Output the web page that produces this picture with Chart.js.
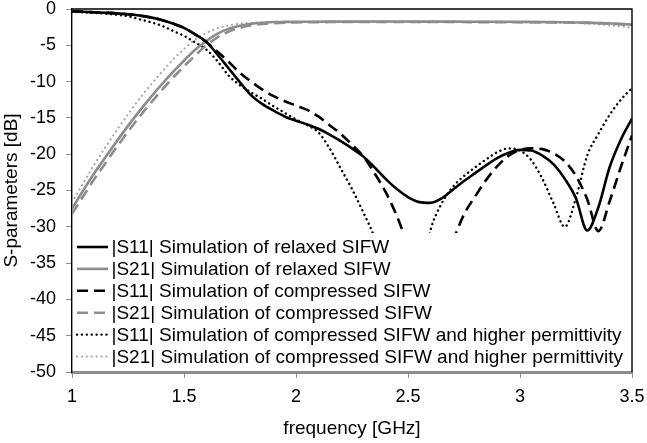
<!DOCTYPE html>
<html>
<head>
<meta charset="utf-8">
<script src="https://cdn.jsdelivr.net/npm/chart.js@4.4.0/dist/chart.umd.min.js"></script>
<style>
  html, body { margin: 0; padding: 0; background: #fff; }
</style>
</head>
<body>
<canvas id="sparams" width="647" height="443"></canvas>
<script>
// frequency points [GHz]
const freq = [1.00, 1.05, 1.10, 1.15, 1.20, 1.25, 1.30, 1.35, 1.40, 1.45,
  1.50, 1.55, 1.60, 1.65, 1.70, 1.75, 1.80, 1.85, 1.90, 1.95,
  2.00, 2.05, 2.10, 2.15, 2.20, 2.25, 2.30, 2.35, 2.40, 2.45,
  2.50, 2.55, 2.60, 2.65, 2.70, 2.75, 2.80, 2.85, 2.90, 2.95,
  3.00, 3.05, 3.10, 3.15, 3.20, 3.25, 3.30, 3.35, 3.40, 3.45, 3.50];

// |S11| relaxed SIFW
const s11Relaxed = [-0.3, -0.38, -0.45, -0.52, -0.6, -0.72, -0.9, -1.15, -1.5, -2.0,
  -2.6, -3.5, -4.5, -6.3, -8.2, -10.1, -11.9, -13.1, -14.0, -14.8,
  -15.4, -15.9, -16.5, -17.3, -18.2, -19.2, -20.3, -21.8, -23.4, -24.8,
  -25.9, -26.6, -26.7, -26.1, -24.9, -23.7, -22.6, -21.5, -20.5, -19.8,
  -19.4, -19.5, -20.2, -21.4, -23.4, -26.1, -30.5, -27.3, -21.8, -18.0, -15.1];
// |S21| relaxed SIFW
const s21Relaxed = [-27.5, -25.0, -22.6, -20.4, -18.2, -16.1, -14.1, -12.2, -10.4, -8.7,
  -7.1, -5.6, -4.4, -3.4, -2.7, -2.3, -2.05, -1.9, -1.8, -1.78,
  -1.76, -1.75, -1.75, -1.74, -1.74, -1.74, -1.73, -1.73, -1.73, -1.73,
  -1.73, -1.73, -1.74, -1.74, -1.74, -1.75, -1.75, -1.75, -1.76, -1.76,
  -1.77, -1.78, -1.79, -1.8, -1.82, -1.85, -1.88, -1.92, -1.98, -2.05, -2.15];
// |S11| compressed SIFW
const s11Compressed = [-0.3, -0.38, -0.45, -0.52, -0.6, -0.72, -0.9, -1.15, -1.5, -2.0,
  -2.6, -3.5, -4.6, -5.9, -7.3, -8.8, -10.0, -11.1, -12.0, -12.7,
  -13.3, -13.9, -14.8, -16.0, -17.2, -18.7, -20.3, -22.6, -25.2, -28.5,
  -32.5, -36.0, -37.5, -36.0, -32.0, -28.3, -25.8, -23.5, -21.6, -20.2,
  -19.4, -19.2, -19.3, -19.9, -21.0, -23.0, -26.2, -30.6, -26.5, -21.8, -17.4];
// |S21| compressed SIFW
const s21Compressed = [-28.2, -25.8, -23.4, -21.2, -19.0, -16.9, -14.9, -13.0, -11.2, -9.5,
  -7.9, -6.4, -5.0, -3.9, -3.1, -2.6, -2.25, -2.05, -1.95, -1.88,
  -1.84, -1.82, -1.81, -1.8, -1.8, -1.8, -1.79, -1.79, -1.79, -1.79,
  -1.79, -1.79, -1.8, -1.8, -1.8, -1.8, -1.81, -1.81, -1.81, -1.82,
  -1.82, -1.83, -1.84, -1.85, -1.86, -1.88, -1.91, -1.95, -2.02, -2.1, -2.2];
// |S11| compressed SIFW and higher permittivity
const s11HigherPerm = [-0.4, -0.48, -0.55, -0.65, -0.8, -1.0, -1.4, -1.8, -2.3, -3.0,
  -3.7, -4.6, -5.6, -7.2, -9.2, -10.5, -11.5, -12.4, -13.4, -14.3,
  -15.2, -16.0, -17.0, -19.2, -22.0, -24.8, -28.0, -31.5, -37.0, -43.0,
  -45.0, -38.0, -30.5, -26.8, -24.5, -23.0, -21.8, -20.7, -19.7, -19.2,
  -19.5, -20.8, -23.4, -26.8, -30.0, -26.0, -20.2, -17.2, -14.6, -12.5, -10.9];
// |S21| compressed SIFW and higher permittivity
const s21HigherPerm = [-26.6, -24.0, -21.4, -19.0, -16.7, -14.5, -12.4, -10.5, -8.7, -7.0,
  -5.5, -4.2, -3.3, -2.65, -2.25, -2.0, -1.9, -1.85, -1.82, -1.8,
  -1.8, -1.79, -1.79, -1.78, -1.78, -1.78, -1.78, -1.78, -1.78, -1.78,
  -1.78, -1.78, -1.79, -1.79, -1.79, -1.8, -1.8, -1.8, -1.81, -1.82,
  -1.83, -1.84, -1.85, -1.87, -1.9, -1.94, -2.0, -2.1, -2.25, -2.4, -2.6];

const seriesLabels = [
  '|S11| Simulation of relaxed SIFW',
  '|S21| Simulation of relaxed SIFW',
  '|S11| Simulation of compressed SIFW',
  '|S21| Simulation of compressed SIFW',
  '|S11| Simulation of compressed SIFW and higher permittivity',
  '|S21| Simulation of compressed SIFW and higher permittivity'
];

const xTicks = [1, 1.5, 2, 2.5, 3, 3.5];
const yTicks = [0, -5, -10, -15, -20, -25, -30, -35, -40, -45, -50];

const FONT = 'Liberation Sans';
const BLACK = '#000000';
const GREY = '#8c8c8c';
const LIGHTGREY = '#a3a3a3';

function pts(vals) {
  return freq.map((f, i) => ({ x: f, y: vals[i] }));
}

function line(label, vals, color, width, dash, cap) {
  return {
    label: label,
    data: pts(vals),
    borderColor: color,
    borderWidth: width,
    borderDash: dash,
    borderCapStyle: cap || 'butt',
    pointRadius: 0,
    fill: false,
    cubicInterpolationMode: 'monotone'
  };
}

// legend drawn inside the plot, on a white box
const insideLegend = {
  id: 'insideLegend',
  afterDatasetsDraw(chart) {
    const ctx = chart.ctx;
    const a = chart.chartArea;
    const boxTop = a.top + 224;
    ctx.save();
    ctx.fillStyle = '#ffffff';
    ctx.fillRect(a.left + 1.5, boxTop, a.right - a.left - 3, a.bottom - boxTop - 2);
    ctx.font = '19px "' + FONT + '"';
    ctx.textBaseline = 'middle';
    ctx.textAlign = 'left';
    chart.data.datasets.forEach((ds, i) => {
      const y = boxTop + 14 + i * 21.9;
      ctx.beginPath();
      ctx.strokeStyle = ds.borderColor;
      ctx.lineWidth = ds.borderWidth;
      ctx.setLineDash(ds.borderDash || []);
      ctx.lineCap = ds.borderCapStyle;
      ctx.moveTo(a.left + 5, y);
      ctx.lineTo(a.left + 36, y);
      ctx.stroke();
      ctx.setLineDash([]);
      ctx.fillStyle = BLACK;
      ctx.fillText(ds.label, a.left + 39.5, y + 1);
    });
    ctx.restore();
  },
  afterDraw(chart) {
    const ctx = chart.ctx;
    const a = chart.chartArea;
    ctx.save();
    ctx.strokeStyle = BLACK;
    ctx.lineWidth = 1.4;
    ctx.beginPath();
    ctx.moveTo(a.left, a.top);
    ctx.lineTo(a.right, a.top);
    ctx.lineTo(a.right, a.bottom);
    ctx.stroke();
    ctx.restore();
  }
};

new Chart(document.getElementById('sparams'), {
  type: 'line',
  data: {
    datasets: [
      line(seriesLabels[0], s11Relaxed, BLACK, 2.6, []),
      line(seriesLabels[1], s21Relaxed, GREY, 2.6, []),
      line(seriesLabels[2], s11Compressed, BLACK, 2.6, [11, 6]),
      line(seriesLabels[3], s21Compressed, GREY, 2.6, [11, 6]),
      line(seriesLabels[4], s11HigherPerm, BLACK, 2.4, [0.1, 4.8], 'round'),
      line(seriesLabels[5], s21HigherPerm, LIGHTGREY, 2.1, [0.1, 4.8], 'round')
    ]
  },
  options: {
    responsive: false,
    devicePixelRatio: 1,
    animation: false,
    layout: { padding: { top: 9, right: 15, left: 0, bottom: 0 } },
    plugins: {
      legend: { display: false },
      tooltip: { enabled: false }
    },
    scales: {
      x: {
        type: 'linear',
        min: 1,
        max: 3.5,
        afterBuildTicks: s => { s.ticks = xTicks.map(v => ({ value: v })); },
        afterFit: s => { s.height = 71; s.paddingLeft = 0; s.paddingRight = 0; },
        grid: { drawOnChartArea: false, tickLength: 6, color: GREY },
        border: { color: GREY, width: 3 },
        ticks: {
          color: BLACK, font: { family: FONT, size: 18 }, padding: 8, maxRotation: 0,
          callback: v => String(v)
        },
        title: {
          display: true,
          text: 'frequency [GHz]',
          color: BLACK,
          font: { family: FONT, size: 19 },
          padding: { top: 0, bottom: 3 }
        }
      },
      y: {
        type: 'linear',
        min: -50,
        max: 0,
        afterBuildTicks: s => { s.ticks = yTicks.map(v => ({ value: v })); },
        afterFit: s => { s.width = 72; s.paddingTop = 0; s.paddingBottom = 0; },
        grid: { drawOnChartArea: false, tickLength: 6, color: GREY },
        border: { color: BLACK, width: 1.4 },
        ticks: {
          color: BLACK, font: { family: FONT, size: 18 }, padding: 10,
          callback: v => String(v)
        },
        title: {
          display: true,
          text: 'S-parameters [dB]',
          color: BLACK,
          font: { family: FONT, size: 19 },
          padding: { top: 0, bottom: 0 }
        }
      }
    }
  },
  plugins: [insideLegend]
});
</script>
</body>
</html>
